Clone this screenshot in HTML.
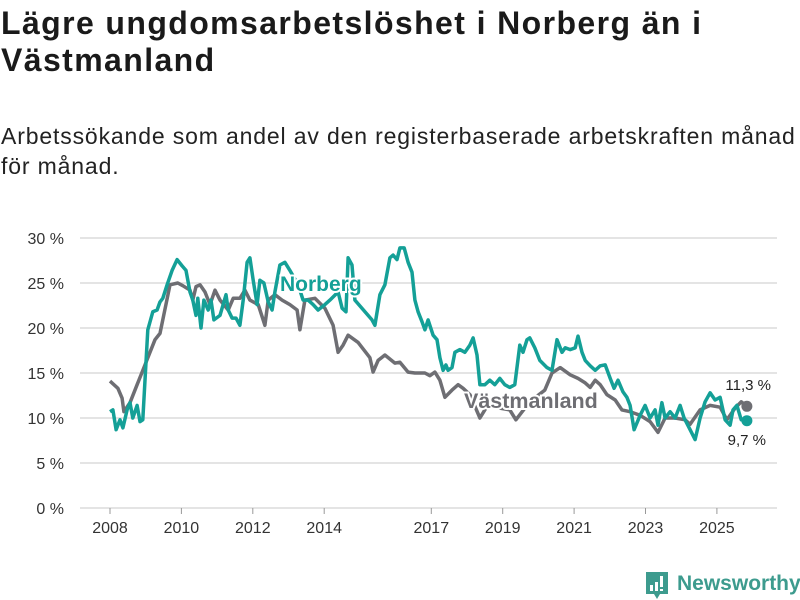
<!DOCTYPE html>
<html><head><meta charset="utf-8">
<style>
body{margin:0;background:#fff;width:800px;height:600px;overflow:hidden;font-family:"Liberation Sans",sans-serif;}
#title{position:absolute;left:1px;top:5px;font-size:32px;letter-spacing:1.4px;font-weight:bold;line-height:37px;color:#1a1a1a;margin:0;width:795px}
#subtitle{position:absolute;left:1px;top:121px;font-size:23px;letter-spacing:0.85px;line-height:30px;color:#222;margin:0;width:798px}
svg{position:absolute;left:0;top:0}
</style></head><body>
<h1 id="title">Lägre ungdomsarbetslöshet i Norberg än i Västmanland</h1>
<p id="subtitle">Arbetssökande som andel av den registerbaserade arbetskraften månad för månad.</p>
<svg id="chart" width="800" height="600"></svg>
<script>
const yTicks=[0,5,10,15,20,25,30];
const xTicks=[2008,2010,2012,2014,2017,2019,2021,2023,2025];
const vDates=[2008.00,2008.22,2008.34,2008.39,2008.56,2008.76,2008.98,2009.26,2009.40,2009.68,2009.90,2010.04,2010.24,2010.32,2010.41,2010.52,2010.66,2010.80,2010.94,2011.08,2011.31,2011.45,2011.64,2011.78,2011.92,2012.15,2012.34,2012.43,2012.62,2012.82,2013.04,2013.24,2013.32,2013.46,2013.74,2014.02,2014.25,2014.39,2014.53,2014.67,2014.95,2015.28,2015.37,2015.51,2015.70,2015.98,2016.12,2016.35,2016.54,2016.82,2016.96,2017.10,2017.24,2017.38,2017.58,2017.75,2017.89,2018.08,2018.36,2018.64,2018.92,2019.20,2019.37,2019.76,2020.18,2020.38,2020.61,2020.89,2021.11,2021.31,2021.45,2021.59,2021.73,2021.92,2022.15,2022.34,2022.57,2022.85,2023.13,2023.35,2023.55,2023.83,2024.11,2024.25,2024.53,2024.81,2025.09,2025.28,2025.51,2025.68,2025.84];
const vastmanland=[14.1,13.3,12.2,10.7,11.7,13.7,15.9,18.7,19.4,24.8,25,24.7,24.2,23.1,24.6,24.8,24,22.6,24.2,23.1,22,23.3,23.3,24.2,23.1,22.6,20.3,23.1,23.7,23.1,22.6,22,19.8,23.1,23.3,22.2,20.3,17.3,18.1,19.2,18.4,16.7,15.1,16.4,17,16.1,16.2,15.1,15,15,14.7,15.1,14.2,12.3,13.1,13.7,13.3,12.6,10,11.8,11.1,10.9,9.8,11.8,13.1,15,15.6,14.8,14.4,13.9,13.4,14.2,13.7,12.6,12,10.9,10.7,10.3,9.6,8.4,10,10,9.8,9.3,10.9,11.4,11.2,9.8,11.1,11.8,11.3];
const nDates=[2008.00,2008.08,2008.17,2008.28,2008.36,2008.48,2008.56,2008.64,2008.76,2008.84,2008.92,2009.06,2009.20,2009.32,2009.40,2009.48,2009.60,2009.74,2009.88,2010.02,2010.13,2010.24,2010.32,2010.41,2010.46,2010.55,2010.63,2010.75,2010.83,2010.91,2011.08,2011.25,2011.31,2011.42,2011.53,2011.64,2011.73,2011.84,2011.92,2012.01,2012.12,2012.20,2012.31,2012.43,2012.54,2012.62,2012.76,2012.90,2013.04,2013.27,2013.41,2013.55,2013.69,2013.83,2014.02,2014.16,2014.39,2014.50,2014.61,2014.67,2014.78,2014.86,2015.34,2015.42,2015.56,2015.70,2015.84,2015.93,2016.04,2016.12,2016.24,2016.35,2016.46,2016.54,2016.63,2016.74,2016.82,2016.91,2017.05,2017.16,2017.24,2017.33,2017.41,2017.47,2017.58,2017.66,2017.80,2017.94,2018.08,2018.17,2018.28,2018.36,2018.50,2018.64,2018.78,2018.92,2019.06,2019.20,2019.34,2019.48,2019.57,2019.68,2019.76,2019.90,2020.04,2020.24,2020.38,2020.52,2020.66,2020.75,2020.89,2021.03,2021.11,2021.22,2021.31,2021.45,2021.59,2021.73,2021.87,2022.01,2022.12,2022.23,2022.37,2022.48,2022.57,2022.68,2022.85,2022.99,2023.13,2023.27,2023.35,2023.46,2023.55,2023.69,2023.83,2023.97,2024.08,2024.25,2024.39,2024.53,2024.67,2024.81,2024.95,2025.09,2025.23,2025.37,2025.45,2025.56,2025.68,2025.84];
const norberg=[10.7,10.9,8.7,9.8,8.9,10.9,11.7,10,11.4,9.6,9.8,19.8,21.8,22,22.9,23.3,24.8,26.4,27.6,26.9,26.4,24,23.1,21.4,23.3,20,23.1,22,23.1,20.9,21.4,23.7,22,21.1,21.1,20.3,23.1,27.3,27.8,25.3,22.6,25.3,25,22.9,22,24,27,27.3,26.4,24.8,23.1,23.1,22.6,22,22.6,23.1,24,22.2,21.8,27.8,27,23.1,20.9,20.3,23.7,24.8,27.8,28.1,27.6,28.9,28.9,27.3,26.2,23.1,21.8,20.7,19.8,20.9,19.2,18.7,16.7,15.3,15.9,15.3,15.6,17.3,17.6,17.3,18.1,18.9,17,13.7,13.7,14.2,13.7,14.4,13.7,13.4,13.7,18.1,17.3,18.7,18.9,17.8,16.4,15.6,15.3,18.7,17.3,17.8,17.6,17.8,19.1,17.3,16.4,15.8,15.3,15.8,15.9,14.4,13.3,14.2,12.9,12.3,11.4,8.7,10.3,11.4,10,10.9,9.2,11.7,10,10.7,10,11.4,10,8.7,7.6,10,11.8,12.8,12,12.3,9.8,9.2,10.9,11.4,9.8,9.7];
const NS='http://www.w3.org/2000/svg';
const svg=document.getElementById('chart');
const X=y=>110+(y-2008)*35.7;
const Y=v=>508-v*9;
function mk(tag,attrs,parent){const e=document.createElementNS(NS,tag);for(const k in attrs)e.setAttribute(k,attrs[k]);(parent||svg).appendChild(e);return e;}
yTicks.forEach(t=>{
  const l=mk('line',{x1:80,x2:777,y1:Y(t),y2:Y(t),stroke:'#dcdcdc','stroke-width':1.5});
  
  
  const tx=mk('text',{x:64,y:Y(t)+6,'text-anchor':'end','font-size':16,fill:'#333','font-family':'Liberation Sans, sans-serif'});
  tx.textContent=t+' %';
  
  
});
xTicks.forEach(t=>{
  const l=mk('line',{x1:X(t),x2:X(t),y1:508,y2:514,stroke:'#999','stroke-width':1});
  
  
  const tx=mk('text',{x:X(t),y:533,'text-anchor':'middle','font-size':16,fill:'#333','font-family':'Liberation Sans, sans-serif'});
  tx.textContent=t;
  
  
});
function line(dates,vals,color,name){
  const n=Math.min(dates.length,vals.length);
  let d='';
  for(let i=0;i<n;i++)d+=(i?'L':'M')+X(dates[i]).toFixed(1)+','+Y(vals[i]).toFixed(1);
  const p=mk('path',{d:d,fill:'none',stroke:color,'stroke-width':3.5,'stroke-linejoin':'round'});
  
  
  const c=mk('circle',{cx:X(dates[n-1]),cy:Y(vals[n-1]),r:5.5,fill:color});
  
  
}
line(vDates,vastmanland,'#6e6e73','vastmanland-line');
line(nDates,norberg,'#14a097','norberg-line');
function label(txt,x,y,color,size,weight,name,anchor){
  const t=mk('text',{x:x,y:y,'font-size':size,'font-weight':weight,fill:color,stroke:'#fff','stroke-width':4,'paint-order':'stroke','font-family':'Liberation Sans, sans-serif','text-anchor':anchor||'start'});
  t.textContent=txt;
  
  
}
label('Norberg',280,291,'#14a097',21,'bold','norberg-label');
label('Västmanland',464,408,'#6e6e73',21.5,'bold','vastmanland-label');
label('11,3 %',771,390,'#222',15,'normal','vastmanland-end-value','end');
label('9,7 %',766,445,'#222',15,'normal','norberg-end-value','end');
const g=mk('g',{});


mk('path',{d:'M646,572h22v22h-8l-3,5l-3,-5h-8z',fill:'#3d9b8e'},g);
mk('rect',{x:650,y:585,width:3,height:6,fill:'#fff'},g);
mk('rect',{x:655,y:582,width:3,height:9,fill:'#fff'},g);
mk('rect',{x:660,y:576,width:3,height:11,fill:'#fff'},g);
mk('rect',{x:660,y:589,width:3,height:2,fill:'#fff'},g);
const lt=mk('text',{x:677,y:590,'font-size':21,'font-weight':'bold',fill:'#3d9b8e','font-family':'Liberation Sans, sans-serif'},g);
lt.textContent='Newsworthy';
</script>
</body></html>
